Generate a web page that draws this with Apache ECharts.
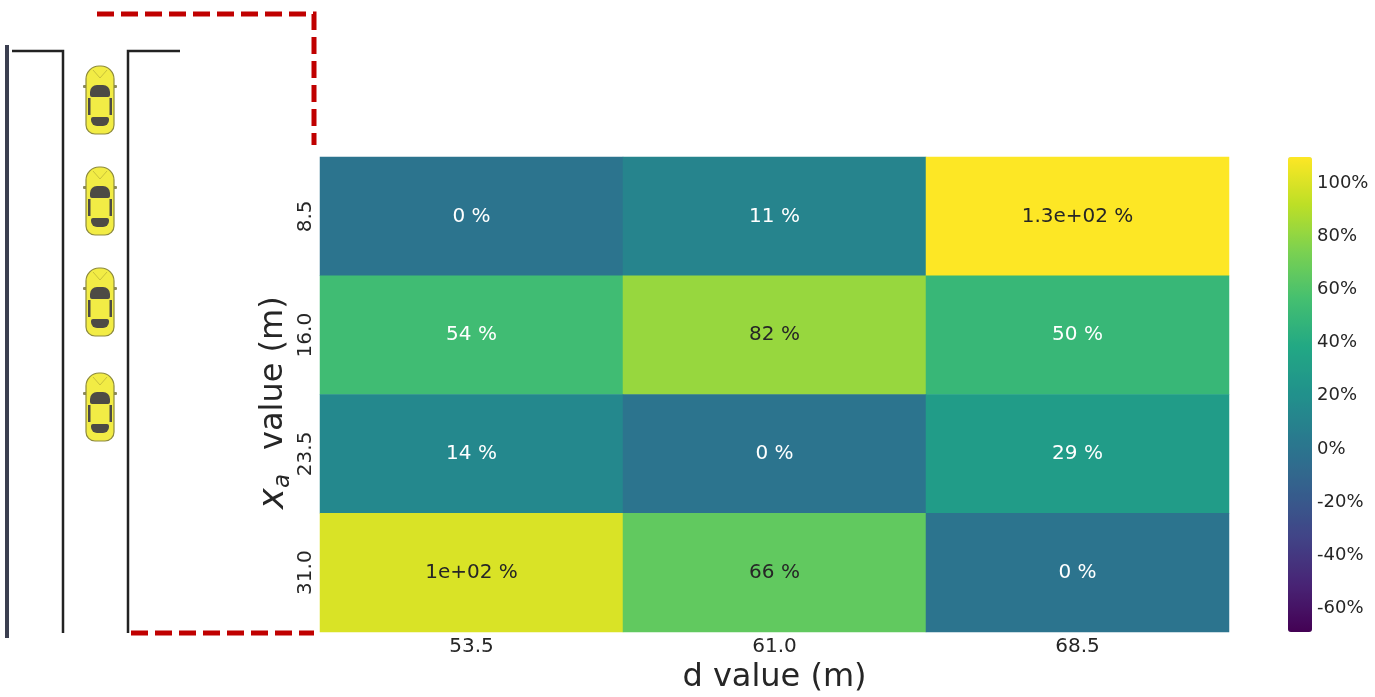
<!DOCTYPE html>
<html>
<head>
<meta charset="utf-8">
<script src="https://cdn.jsdelivr.net/npm/echarts@6/dist/echarts.min.js"></script>
<style>
  html, body { margin: 0; padding: 0; background: #fff; }
  #main { width: 1375px; height: 697px; }
</style>
</head>
<body>
<div id="main"></div>
<script>
// data
const dValues = ['53.5', '61.0', '68.5'];
const xaValues = ['8.5', '16.0', '23.5', '31.0'];
const ratioRows = [
  [0, 11, 130],
  [54, 82, 50],
  [14, 0, 29],
  [100, 66, 0]
];
const colorTicks = [-60, -40, -20, 0, 20, 40, 60, 80, 100];
const colorMin = -69;
const colorMax = 110;

const viridis = ['#440154', '#482475', '#414487', '#355f8d', '#2a788e', '#21918c',
  '#22a884', '#44bf70', '#7ad151', '#bddf26', '#fde725'];
const darkText = '#262626';
const font = 'DejaVu Sans';

// matplotlib style ".2g"
function fmt2g(v) {
  if (v === 0) return '0';
  const e = Math.floor(Math.log10(Math.abs(v)));
  if (e < -4 || e >= 2) {
    let m = (v / Math.pow(10, e)).toPrecision(2);
    m = m.replace(/\.0+$/, '');
    return m + 'e+' + String(e).padStart(2, '0');
  }
  return String(Number(v.toPrecision(2)));
}

function hexRgb(h) {
  return [1, 3, 5].map(i => parseInt(h.substr(i, 2), 16));
}
function viridisAt(v) {
  let t = (v - colorMin) / (colorMax - colorMin);
  t = Math.max(0, Math.min(1, t)) * (viridis.length - 1);
  const i = Math.min(Math.floor(t), viridis.length - 2);
  const f = t - i;
  const a = hexRgb(viridis[i]), b = hexRgb(viridis[i + 1]);
  return a.map((c, k) => c + (b[k] - c) * f);
}
// seaborn picks the annotation colour from the cell luminance
function textColor(v) {
  const lin = viridisAt(v).map(c => {
    c = c / 255;
    return c <= 0.03928 ? c / 12.92 : Math.pow((c + 0.055) / 1.055, 2.4);
  });
  const lum = 0.2126 * lin[0] + 0.7152 * lin[1] + 0.0722 * lin[2];
  return lum > 0.408 ? darkText : '#ffffff';
}

const cells = [];
ratioRows.forEach((row, r) => {
  row.forEach((v, c) => {
    cells.push({
      value: [c, r, v],
      label: { color: textColor(v) }
    });
  });
});

// road sketch on the left
function car(cy) {
  const dark = '#4d4b45';
  return {
    type: 'group', x: 100, y: cy,
    children: [
      { type: 'rect', shape: { x: -17, y: -15, width: 4, height: 3, r: 1 }, style: { fill: '#8c8a60' } },
      { type: 'rect', shape: { x: 13, y: -15, width: 4, height: 3, r: 1 }, style: { fill: '#8c8a60' } },
      { type: 'rect', shape: { x: -14, y: -34, width: 28, height: 68, r: [13, 13, 9, 9] },
        style: { fill: '#f2ec45', stroke: '#8d8a3c', lineWidth: 1.2 } },
      { type: 'rect', shape: { x: -10, y: -15, width: 20, height: 12, r: [7, 7, 2, 2] }, style: { fill: dark } },
      { type: 'rect', shape: { x: -9, y: 17, width: 18, height: 9, r: [2, 2, 6, 6] }, style: { fill: dark } },
      { type: 'rect', shape: { x: -12, y: -2, width: 2.5, height: 17 }, style: { fill: dark } },
      { type: 'rect', shape: { x: 9.5, y: -2, width: 2.5, height: 17 }, style: { fill: dark } },
      { type: 'polyline', shape: { points: [[-7, -30], [0, -22], [7, -30]] },
        style: { stroke: '#c9c23a', lineWidth: 1, fill: null } }
    ]
  };
}

const nameFont = 'italic 35px "DejaVu Sans"';
const subFont = 'italic 23px "DejaVu Sans"';
const restFont = '32px "DejaVu Sans"';

const graphic = [
  { type: 'line', shape: { x1: 7, y1: 45, x2: 7, y2: 638 }, style: { stroke: '#3b3f50', lineWidth: 4 } },
  { type: 'polyline', shape: { points: [[12, 51], [63, 51], [63, 633]] }, style: { stroke: '#222', lineWidth: 2.5, fill: null } },
  { type: 'polyline', shape: { points: [[180, 51], [128, 51], [128, 633]] }, style: { stroke: '#222', lineWidth: 2.5, fill: null } },
  { type: 'polyline', shape: { points: [[97, 14], [314, 14], [314, 145]] },
    style: { stroke: '#c00000', lineWidth: 5, fill: null, lineDash: [17, 7] } },
  { type: 'line', shape: { x1: 131, y1: 633, x2: 314, y2: 633 },
    style: { stroke: '#c00000', lineWidth: 5, lineDash: [17, 7] } },
  car(100), car(201), car(302), car(407),
  {
    type: 'group', x: 274, y: 395, rotation: Math.PI / 2,
    children: [
      { type: 'text', style: { text: 'x', x: -114, y: 0, font: nameFont, fill: darkText, textAlign: 'left', textVerticalAlign: 'middle' } },
      { type: 'text', style: { text: 'a', x: -93, y: 9, font: subFont, fill: darkText, textAlign: 'left', textVerticalAlign: 'middle' } },
      { type: 'text', style: { text: 'value (m)', x: -55, y: 0, font: restFont, fill: darkText, textAlign: 'left', textVerticalAlign: 'middle' } }
    ]
  }
];

const chart = echarts.init(document.getElementById('main'));
chart.setOption({
  backgroundColor: '#fff',
  animation: false,
  textStyle: { fontFamily: font },
  grid: [
    { left: 320, top: 157, width: 909, height: 475, outerBoundsMode: 'none', containLabel: false },
    { left: 1288, top: 157, width: 24, height: 475, outerBoundsMode: 'none', containLabel: false }
  ],
  xAxis: [
    {
      type: 'category', data: dValues, gridIndex: 0,
      axisLine: { show: false }, axisTick: { show: false }, splitLine: { show: false },
      axisLabel: { color: darkText, fontSize: 20, margin: 5, fontFamily: font },
      name: 'd value (m)', nameLocation: 'middle', nameGap: 17,
      nameTextStyle: { color: darkText, fontSize: 32, fontFamily: font, verticalAlign: 'top' }
    },
    { type: 'value', gridIndex: 1, show: false, min: 0, max: 1 }
  ],
  yAxis: [
    {
      type: 'category', data: xaValues, gridIndex: 0, inverse: true,
      axisLine: { show: false }, axisTick: { show: false }, splitLine: { show: false },
      axisLabel: { color: darkText, fontSize: 20, rotate: 90, margin: 4, fontFamily: font }
    },
    {
      type: 'value', gridIndex: 1, position: 'right', min: colorMin, max: colorMax,
      axisLine: { show: false }, splitLine: { show: false },
      axisTick: { show: true, length: 4, lineStyle: { color: '#444' }, customValues: colorTicks },
      axisLabel: { color: darkText, fontSize: 18, margin: 5, fontFamily: font,
        customValues: colorTicks, formatter: '{value}%' }
    }
  ],
  visualMap: {
    type: 'continuous', seriesIndex: 0, dimension: 2,
    min: colorMin, max: colorMax, calculable: false,
    orient: 'vertical', left: 1288, top: 157, padding: 0,
    itemWidth: 24, itemHeight: 475, text: ['', ''],
    inRange: { color: viridis }
  },
  series: [
    {
      type: 'heatmap', xAxisIndex: 0, yAxisIndex: 0, data: cells,
      label: {
        show: true, fontSize: 20, fontFamily: font,
        formatter: p => fmt2g(p.value[2]) + ' %'
      },
      emphasis: { disabled: true }
    },
    { type: 'scatter', xAxisIndex: 1, yAxisIndex: 1, data: [], silent: true }
  ],
  graphic: graphic
});
</script>
</body>
</html>
